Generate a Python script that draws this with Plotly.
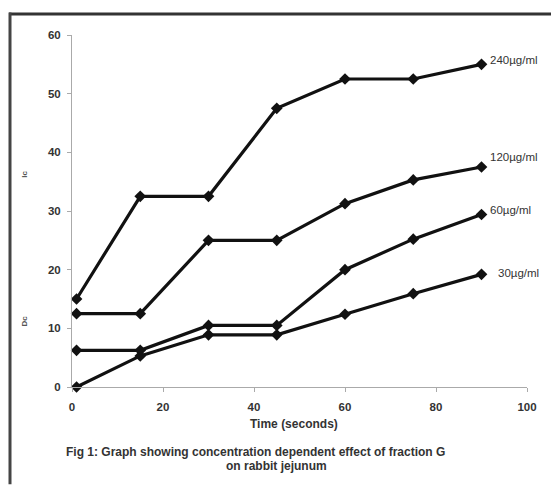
import plotly.graph_objects as go

time_s = [1, 15, 30, 45, 60, 75, 90]
series_names = ["240µg/ml", "120µg/ml", "60µg/ml", "30µg/ml"]
c240 = [15, 32.5, 32.5, 47.5, 52.5, 52.5, 55]
c120 = [12.5, 12.5, 25, 25, 31.25, 35.3, 37.5]
c60 = [6.25, 6.25, 10.5, 10.5, 20, 25.2, 29.4]
c30 = [0, 5.3, 8.9, 8.9, 12.4, 15.9, 19.2]
values = [c240, c120, c60, c30]
x_ticks = [0, 20, 40, 60, 80, 100]
y_ticks = [0, 10, 20, 30, 40, 50, 60]

OFF = 8  # default page body margin
W, H = 559 - OFF, 486 - OFF
# plot area in reference pixel coordinates
PX0, PX1, PY0, PY1 = 72, 527, 35, 387.5
L, R, T, B = PX0 - OFF, W - (PX1 - OFF), PY0 - OFF, H - (PY1 - OFF)
PW, PH = PX1 - PX0, PY1 - PY0


def px(xr):
    return (xr - PX0) / PW


def py(yr):
    return (PY1 - yr) / PH


FONT = "Liberation Sans, Arial"
fig = go.Figure()
for name, vals in zip(series_names, values):
    fig.add_trace(go.Scatter(
        x=time_s, y=vals, mode="lines+markers", name=name,
        line=dict(color="#111111", width=3.2),
        marker=dict(symbol="diamond", size=9, color="#111111"),
        cliponaxis=False, showlegend=False,
    ))

label_dx = {"240µg/ml": 6, "120µg/ml": 6, "60µg/ml": 6, "30µg/ml": 14}
label_dy = {"240µg/ml": -4, "120µg/ml": -10, "60µg/ml": -5, "30µg/ml": -1}
for name, vals in zip(series_names, values):
    fig.add_annotation(
        x=time_s[-1], y=vals[-1], xref="x", yref="y",
        text=name, showarrow=False, xanchor="left", yanchor="middle",
        xshift=label_dx[name], yshift=-label_dy[name],
        font=dict(family=FONT, size=11.5, color="#333333"),
    )

axis_font = dict(family=FONT, size=11.5, color="#333333")
fig.update_xaxes(
    range=[0, 100], tickvals=x_ticks, ticktext=[f"<b>{v}</b>" for v in x_ticks],
    showgrid=False, zeroline=False, showline=True, linecolor="#aaaaaa", linewidth=1,
    ticks="outside", ticklen=4, tickcolor="#aaaaaa", tickfont=axis_font,
    ticklabelstandoff=5,
)
fig.update_yaxes(
    range=[0, 60], tickvals=y_ticks, ticktext=[f"<b>{v}</b>" for v in y_ticks],
    showgrid=False, zeroline=False, showline=True, linecolor="#aaaaaa", linewidth=1,
    ticks="outside", ticklen=4, tickcolor="#aaaaaa", tickfont=axis_font,
    ticklabelstandoff=4,
)

fig.add_annotation(x=px(294), y=py(425), xref="paper", yref="paper",
                   text="<b>Time (seconds)</b>", showarrow=False,
                   font=dict(family=FONT, size=12, color="#333333"),
                   xanchor="center", yanchor="middle")
fig.add_annotation(x=px(255), y=py(453), xref="paper", yref="paper",
                   text="<b>Fig 1: Graph showing concentration dependent effect of fraction G</b>",
                   showarrow=False, font=dict(family=FONT, size=12, color="#333333"),
                   xanchor="center", yanchor="middle")
fig.add_annotation(x=px(276), y=py(467), xref="paper", yref="paper",
                   text="<b>on rabbit jejunum</b>", showarrow=False,
                   font=dict(family=FONT, size=12, color="#333333"),
                   xanchor="center", yanchor="middle")
for txt, yy in [("lc", 175), ("Dc", 322)]:
    fig.add_annotation(x=px(25), y=py(yy), xref="paper", yref="paper",
                       text=f"<b>{txt}</b>", textangle=-90, showarrow=False,
                       font=dict(family=FONT, size=8, color="#555555"),
                       xanchor="center", yanchor="middle")

# frame: top and left border
fig.add_shape(type="rect", xref="paper", yref="paper", layer="above",
              x0=px(9), x1=px(558), y0=py(12.5), y1=py(15.5),
              fillcolor="#333333", line=dict(width=0))
fig.add_shape(type="rect", xref="paper", yref="paper", layer="above",
              x0=px(8.5), x1=px(11.5), y0=py(12.5), y1=py(485),
              fillcolor="#444444", line=dict(width=0))

fig.update_layout(
    width=W, height=H, margin=dict(l=L, r=R, t=T, b=B),
    paper_bgcolor="white", plot_bgcolor="white", showlegend=False,
)
fig.write_html("out.html")
